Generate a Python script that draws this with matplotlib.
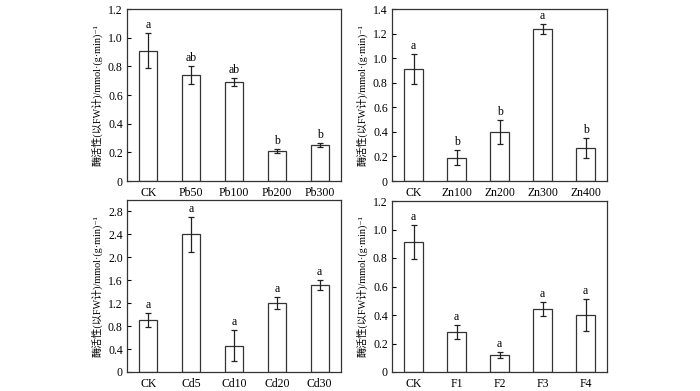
"""Enzyme activity bar charts, four heavy-metal treatments."""
import matplotlib

matplotlib.use("Agg")
import matplotlib.pyplot as plt  # noqa: E402
import numpy as np  # noqa: E402

plt.rcParams.update({
    "font.family": ["Liberation Serif", "Noto Sans CJK SC", "DejaVu Serif"],
    "font.size": 8.5,
    "axes.linewidth": 0.9,
    "axes.edgecolor": "#333333",
    "ytick.direction": "in",
    "ytick.major.size": 3,
    "ytick.major.width": 0.8,
})

# Pb
pb_cats = ["CK", "Pb50", "Pb100", "Pb200", "Pb300"]
pb_vals = [0.91, 0.74, 0.69, 0.21, 0.25]
pb_err = [0.12, 0.06, 0.03, 0.015, 0.015]
pb_sig = ["a", "ab", "ab", "b", "b"]

# Zn
zn_cats = ["CK", "Zn100", "Zn200", "Zn300", "Zn400"]
zn_vals = [0.91, 0.19, 0.40, 1.24, 0.27]
zn_err = [0.12, 0.06, 0.10, 0.04, 0.08]
zn_sig = ["a", "b", "b", "a", "b"]

# Cd
cd_cats = ["CK", "Cd5", "Cd10", "Cd20", "Cd30"]
cd_vals = [0.91, 2.40, 0.46, 1.20, 1.52]
cd_err = [0.12, 0.30, 0.27, 0.10, 0.09]
cd_sig = ["a", "a", "a", "a", "a"]

# F
f_cats = ["CK", "F1", "F2", "F3", "F4"]
f_vals = [0.91, 0.28, 0.12, 0.44, 0.40]
f_err = [0.12, 0.05, 0.02, 0.05, 0.11]
f_sig = ["a", "a", "a", "a", "a"]

YLABEL = "酶活性(以FW计)/mmol·(g·min)⁻¹"

fig = plt.figure(figsize=(7.0, 3.91), dpi=100)
W, H = 700, 391


def _axes(left, top, right, bottom):
    return fig.add_axes([left / W, 1 - bottom / H, (right - left) / W, (bottom - top) / H])


def panel(ax, cats, vals, err, sig, ymax, step, ylabel_x):
    x = np.arange(len(cats))
    ax.bar(x, vals, width=0.42, color="white", edgecolor="#333333", linewidth=0.9)
    ax.errorbar(x, vals, yerr=err, fmt="none", ecolor="#222222",
                elinewidth=0.9, capsize=2, capthick=0.9)
    for xi, v, e, s in zip(x, vals, err, sig):
        ax.text(xi, v + e + ymax * 0.012, s, ha="center", va="bottom", fontsize=8.5)
    ax.set_xlim(-0.5, len(cats) - 0.5)
    ax.set_ylim(0, ymax)
    ticks = np.arange(0, ymax + 1e-9, step)
    ax.set_yticks(ticks)
    ax.set_yticklabels(["0"] + [f"{t:.1f}" for t in ticks[1:]])
    ax.set_xticks(x)
    ax.set_xticklabels(cats)
    ax.tick_params(axis="x", length=0, pad=4)
    ax.tick_params(axis="y", pad=3)
    ax.set_ylabel(YLABEL, fontsize=7.3)
    ax.yaxis.set_label_coords(ylabel_x, 0.5)


ax1 = _axes(127, 9, 341, 181)
panel(ax1, pb_cats, pb_vals, pb_err, pb_sig, 1.2, 0.2, -0.115)
ax2 = _axes(392, 9, 607, 181)
panel(ax2, zn_cats, zn_vals, zn_err, zn_sig, 1.4, 0.2, -0.115)
ax3 = _axes(127, 200, 341, 372)
panel(ax3, cd_cats, cd_vals, cd_err, cd_sig, 3.0, 0.4, -0.115)
ax4 = _axes(392, 201, 607, 372)
panel(ax4, f_cats, f_vals, f_err, f_sig, 1.2, 0.2, -0.115)

fig.savefig("out.png", dpi=100)
